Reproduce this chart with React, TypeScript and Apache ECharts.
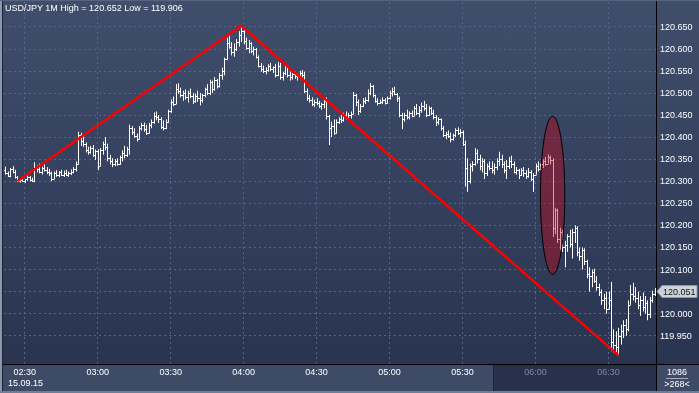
import React, { useEffect, useRef } from "react";
import * as echarts from "echarts";

// ---------- data ----------
const SYMBOL = "USD/JPY";
const PERIOD = "1M";
const DATE_LABEL = "15.09.15";
const COUNTER = "1086";
const START_TIME = "02:22";
const FIRST_OPEN = 120.325;

const highs = [
  120.333,120.322,120.330,120.334,120.326,120.312,120.306,120.310,120.305,120.313,
  120.312,120.308,120.343,120.336,120.340,120.333,120.338,120.332,120.328,120.322,
  120.322,120.325,120.323,120.326,120.324,120.326,120.322,120.327,120.332,120.345,
  120.412,120.410,120.405,120.388,120.378,120.380,120.382,120.372,120.372,120.375,
  120.390,120.400,120.385,120.360,120.352,120.350,120.352,120.358,120.370,120.380,
  120.378,120.428,120.425,120.420,120.408,120.425,120.432,120.433,120.428,120.432,
  120.440,120.456,120.458,120.450,120.445,120.438,120.440,120.462,120.485,120.492,
  120.520,120.522,120.512,120.505,120.508,120.505,120.510,120.500,120.498,120.505,
  120.500,120.498,120.512,120.520,120.530,120.528,120.536,120.532,120.545,120.557,
  120.580,120.625,120.630,120.615,120.612,120.622,120.640,120.652,120.645,120.625,
  120.620,120.615,120.605,120.602,120.585,120.568,120.562,120.558,120.565,120.568,
  120.560,120.566,120.570,120.568,120.548,120.568,120.562,120.548,120.545,120.548,
  120.545,120.550,120.552,120.548,120.510,120.495,120.490,120.485,120.488,120.482,
  120.478,120.485,120.490,120.450,120.435,120.440,120.440,120.445,120.450,120.455,
  120.458,120.455,120.458,120.502,120.498,120.485,120.475,120.488,120.490,120.508,
  120.522,120.518,120.496,120.488,120.485,120.490,120.488,120.492,120.505,120.512,
  120.514,120.500,120.492,120.455,120.455,120.462,120.458,120.460,120.470,120.475,
  120.470,120.478,120.482,120.475,120.470,120.468,120.462,120.450,120.445,120.442,
  120.425,120.412,120.415,120.410,120.408,120.420,120.422,120.418,120.415,120.392,
  120.352,120.340,120.345,120.375,120.372,120.360,120.352,120.350,120.340,120.345,
  120.345,120.340,120.352,120.367,120.360,120.345,120.348,120.355,120.358,120.345,
  120.332,120.328,120.330,120.332,120.325,120.330,120.325,120.318,120.340,120.345,
  120.340,120.350,120.355,120.361,120.358,120.352,120.240,120.238,120.195,120.190,
  120.165,120.180,120.190,120.192,120.200,120.198,120.150,120.150,120.148,120.122,
  120.105,120.100,120.102,120.085,120.068,120.055,120.045,120.050,120.050,120.072,
  119.965,119.960,119.968,119.975,119.985,119.988,120.030,120.065,120.070,120.060,
  120.050,120.040,120.048,120.040,120.030,120.038,120.052,120.058,
];

const lows = [
  120.315,120.310,120.309,120.318,120.306,120.298,120.297,120.299,120.296,120.301,
  120.300,120.298,120.298,120.320,120.318,120.315,120.322,120.316,120.312,120.300,
  120.305,120.310,120.309,120.312,120.310,120.312,120.310,120.314,120.318,120.322,
  120.338,120.380,120.378,120.365,120.360,120.362,120.355,120.348,120.325,120.335,
  120.360,120.370,120.345,120.338,120.332,120.334,120.335,120.337,120.345,120.352,
  120.355,120.360,120.405,120.398,120.390,120.395,120.415,120.412,120.405,120.408,
  120.420,120.430,120.438,120.432,120.418,120.415,120.418,120.432,120.455,120.470,
  120.475,120.498,120.490,120.482,120.485,120.478,120.488,120.475,120.478,120.480,
  120.472,120.478,120.490,120.495,120.495,120.500,120.505,120.510,120.512,120.530,
  120.540,120.575,120.600,120.585,120.582,120.595,120.605,120.615,120.610,120.598,
  120.590,120.590,120.585,120.578,120.558,120.548,120.545,120.542,120.548,120.550,
  120.545,120.535,120.538,120.530,120.528,120.540,120.535,120.528,120.530,120.532,
  120.528,120.532,120.535,120.500,120.482,120.478,120.470,120.468,120.472,120.466,
  120.462,120.465,120.440,120.382,120.400,120.405,120.408,120.430,120.432,120.435,
  120.440,120.438,120.442,120.452,120.470,120.450,120.455,120.468,120.475,120.480,
  120.495,120.490,120.478,120.472,120.475,120.475,120.474,120.476,120.485,120.492,
  120.495,120.480,120.445,120.418,120.435,120.440,120.440,120.445,120.448,120.450,
  120.445,120.455,120.460,120.445,120.448,120.450,120.440,120.425,120.428,120.415,
  120.400,120.395,120.398,120.388,120.392,120.400,120.405,120.400,120.380,120.288,
  120.276,120.295,120.322,120.335,120.340,120.325,120.320,120.305,120.312,120.325,
  120.318,120.315,120.325,120.335,120.330,120.318,120.305,120.328,120.330,120.318,
  120.315,120.305,120.312,120.310,120.305,120.308,120.300,120.276,120.315,120.322,
  120.325,120.330,120.335,120.340,120.338,120.174,120.180,120.160,120.145,120.140,
  120.105,120.140,120.150,120.125,120.160,120.130,120.120,120.100,120.110,120.080,
  120.050,120.060,120.070,120.052,120.040,120.020,120.010,120.000,120.010,119.915,
  119.912,119.910,119.906,119.930,119.945,119.950,119.960,120.020,120.030,120.025,
  120.010,119.995,120.005,120.000,119.985,119.990,120.025,120.040,
];

const closes = [
  120.318,120.312,120.327,120.320,120.310,120.301,120.303,120.300,120.304,120.309,
  120.302,120.300,120.330,120.328,120.322,120.330,120.325,120.320,120.318,120.306,
  120.318,120.313,120.320,120.315,120.318,120.314,120.318,120.320,120.328,120.340,
  120.405,120.392,120.385,120.370,120.366,120.375,120.360,120.368,120.335,120.370,
  120.385,120.378,120.352,120.345,120.340,120.346,120.340,120.354,120.365,120.360,
  120.372,120.420,120.412,120.402,120.395,120.420,120.428,120.418,120.410,120.428,
  120.435,120.448,120.445,120.440,120.422,120.420,120.435,120.458,120.480,120.476,
  120.510,120.505,120.495,120.500,120.490,120.500,120.492,120.482,120.494,120.488,
  120.485,120.495,120.508,120.500,120.525,120.508,120.530,120.515,120.540,120.550,
  120.578,120.612,120.605,120.592,120.600,120.615,120.632,120.640,120.618,120.602,
  120.612,120.595,120.600,120.582,120.562,120.555,120.550,120.552,120.560,120.555,
  120.558,120.540,120.562,120.535,120.545,120.560,120.540,120.535,120.542,120.538,
  120.540,120.545,120.540,120.505,120.488,120.485,120.475,120.480,120.478,120.470,
  120.475,120.482,120.448,120.420,120.425,120.410,120.435,120.440,120.438,120.450,
  120.445,120.450,120.452,120.495,120.480,120.458,120.470,120.482,120.485,120.500,
  120.515,120.495,120.482,120.478,120.480,120.485,120.478,120.488,120.500,120.505,
  120.498,120.488,120.450,120.440,120.450,120.445,120.455,120.448,120.465,120.455,
  120.462,120.470,120.465,120.450,120.465,120.455,120.445,120.435,120.440,120.420,
  120.405,120.408,120.402,120.395,120.405,120.415,120.410,120.412,120.385,120.330,
  120.300,120.335,120.340,120.365,120.350,120.335,120.345,120.318,120.335,120.330,
  120.325,120.332,120.345,120.350,120.340,120.325,120.335,120.345,120.340,120.322,
  120.325,120.315,120.325,120.318,120.312,120.322,120.305,120.315,120.335,120.328,
  120.338,120.345,120.340,120.355,120.348,120.195,120.235,120.170,120.185,120.150,
  120.155,120.175,120.158,120.185,120.195,120.140,120.130,120.145,120.120,120.090,
  120.085,120.095,120.075,120.060,120.050,120.030,120.035,120.010,120.030,119.935,
  119.930,119.925,119.950,119.960,119.975,119.965,120.020,120.045,120.040,120.035,
  120.020,120.030,120.015,120.025,120.000,120.030,120.045,120.051,
];

const xTickLabels = ["02:30", "03:00", "03:30", "04:00", "04:30", "05:00", "05:30", "06:00", "06:30"];
const yTickValues = [119.95, 120.0, 120.05, 120.1, 120.15, 120.2, 120.25, 120.3, 120.35, 120.4, 120.45, 120.5, 120.55, 120.6, 120.65];

const trendTimes = ["02:27", "03:59", "06:34"];
const trendValues = [120.3, 120.652, 119.906];

const ellipseCenterTime = "06:07";
const ellipseCenterValue = 120.268;
const ellipseHalfBars = 5;
const ellipseHalfPrice = 0.179;

const SHADE_FROM_TIME = "05:42";

// ---------- layout ----------
const W = 699;
const H = 393;
const GRID = { left: 4, right: 43, top: 2, bottom: 29 };
const Y_MIN = 119.886;
const Y_MAX = 120.706;
const FONT = "Liberation Sans";

function buildTimes(n: number): string[] {
  const [h, m] = START_TIME.split(":").map(Number);
  const base = h * 60 + m;
  const out: string[] = [];
  for (let k = 0; k < n; k++) {
    const t = base + k;
    out.push(String(Math.floor(t / 60)).padStart(2, "0") + ":" + String(t % 60).padStart(2, "0"));
  }
  return out;
}

export default function App() {
  const ref = useRef<HTMLDivElement>(null);

  useEffect(() => {
    document.body.style.margin = "0";
    const chart = echarts.init(ref.current!, null, { renderer: "svg" });
    const n = closes.length;
    const times = buildTimes(n);
    const ohlc = closes.map((c, i) => {
      const o = i === 0 ? FIRST_OPEN : closes[i - 1];
      const l = Math.min(lows[i], o, c);
      const h = Math.max(highs[i], o, c);
      return [i, o, c, l, h];
    });
    const xTickIdx = xTickLabels.map((t) => times.indexOf(t));
    const shadeFrom = times.indexOf(SHADE_FROM_TIME) + 0.5;
    const trendData = trendTimes.map((t, k) => [times.indexOf(t), trendValues[k]]);
    const hi = Math.max(...highs);
    const lo = Math.min(...lows);
    const last = closes[n - 1];
    // the last-price tag covers the tick label it sits on
    const yLabelValues = yTickValues.filter((v) => Math.abs(v - last) > 0.02);

    const gridLine = { show: true, lineStyle: { color: "#56668a", type: [2, 3] as any, width: 1 } };

    chart.setOption({
      animation: false,
      textStyle: { fontFamily: FONT },
      grid: { ...GRID },
      xAxis: {
        type: "value",
        min: -0.5,
        max: n - 0.5,
        z: 10,
        axisLine: { show: false },
        axisTick: { show: false, customValues: xTickIdx },
        axisLabel: {
          customValues: xTickIdx,
          formatter: (v: number) => times[Math.round(v)],
          color: (v: any) => (Number(v) > shadeFrom ? "#7c88a1" : "#ffffff"),
          fontSize: 9,
          fontFamily: FONT,
          margin: 3,
        },
        splitLine: gridLine,
      },
      yAxis: {
        type: "value",
        position: "right",
        min: Y_MIN,
        max: Y_MAX,
        axisLine: { show: false },
        axisTick: { show: false, customValues: yTickValues },
        axisLabel: {
          customValues: yLabelValues,
          formatter: (v: number) => Number(v).toFixed(3),
          color: "#ffffff",
          fontSize: 9,
          fontFamily: FONT,
          margin: 4,
        },
        splitLine: gridLine,
      },
      series: [
        {
          type: "custom",
          z: 12,
          data: ohlc,
          encode: { x: 0, y: [1, 2, 3, 4] },
          renderItem: (_p: any, api: any) => {
            const i = api.value(0);
            const pO = api.coord([i, api.value(1)]);
            const pC = api.coord([i, api.value(2)]);
            const pL = api.coord([i, api.value(3)]);
            const pH = api.coord([i, api.value(4)]);
            const x = Math.round(pH[0]) + 0.5;
            const yH = pH[1];
            const yL = Math.max(pL[1], yH + 1);
            const yO = Math.round(pO[1]) + 0.5;
            const yC = Math.round(pC[1]) + 0.5;
            const st = { stroke: "#ffffff", lineWidth: 1 };
            return {
              type: "group",
              children: [
                { type: "line", shape: { x1: x, y1: yH, x2: x, y2: yL }, style: st },
                { type: "line", shape: { x1: x - 1.5, y1: yO, x2: x, y2: yO }, style: st },
                { type: "line", shape: { x1: x, y1: yC, x2: x + 1.5, y2: yC }, style: st },
              ],
            };
          },
        },
        {
          type: "line",
          z: 13,
          data: trendData,
          symbol: "none",
          lineStyle: { color: "#ff0000", width: 2.5 },
          silent: true,
        },
      ],
    });

    const px = (i: number, v: number) => chart.convertToPixel({ gridIndex: 0 }, [i, v]) as number[];
    const plotRight = W - GRID.right;
    const plotBottom = H - GRID.bottom;

    const cIdx = times.indexOf(ellipseCenterTime);
    const ec = px(cIdx, ellipseCenterValue);
    const rx = px(cIdx + ellipseHalfBars, ellipseCenterValue)[0] - ec[0];
    const ry = ec[1] - px(cIdx, ellipseCenterValue + ellipseHalfPrice)[1];

    const ly = Math.round(px(n - 1, last)[1]) + 0.5;
    const shadeX = Math.round(px(shadeFrom, Y_MIN)[0]);

    const txt = (text: string, x: number, y: number, fill: string, align = "left") => ({
      type: "text",
      z: 60,
      style: {
        text,
        x,
        y,
        fill,
        fontSize: 9,
        fontFamily: FONT,
        align,
        textAlign: align,
        verticalAlign: "middle",
        textVerticalAlign: "middle",
      },
    });

    chart.setOption({
      graphic: [
        {
          type: "rect",
          z: -100,
          silent: true,
          shape: { x: 0, y: 0, width: W, height: plotBottom },
          style: {
            fill: new echarts.graphic.LinearGradient(0, 0, 0, 1, [
              { offset: 0, color: "#404e6c" },
              { offset: 1, color: "#293450" },
            ]),
          },
        },
        { type: "rect", z: -99, silent: true, shape: { x: 0, y: plotBottom, width: W, height: H - plotBottom }, style: { fill: "#3e4b67" } },
        { type: "rect", z: -98, silent: true, shape: { x: shadeX, y: plotBottom + 1, width: plotRight - shadeX, height: H - plotBottom - 3 }, style: { fill: "#27314a" } },
        { type: "line", z: -97, silent: true, shape: { x1: shadeX + 0.5, y1: plotBottom + 1, x2: shadeX + 0.5, y2: H - 2 }, style: { stroke: "#1c2436", lineWidth: 1 } },
        { type: "line", z: 50, silent: true, shape: { x1: 0, y1: plotBottom + 0.5, x2: W, y2: plotBottom + 0.5 }, style: { stroke: "#000000", lineWidth: 1 } },
        { type: "line", z: 50, silent: true, shape: { x1: plotRight + 0.5, y1: 0, x2: plotRight + 0.5, y2: H }, style: { stroke: "#000000", lineWidth: 1 } },
        { type: "rect", z: 50, silent: true, shape: { x: 0, y: 0, width: 2, height: H }, style: { fill: "#8a97ae" } },
        { type: "line", z: 50, silent: true, shape: { x1: 2.5, y1: 0, x2: 2.5, y2: H }, style: { stroke: "#1c2334", lineWidth: 1 } },
        { type: "rect", z: 50, silent: true, shape: { x: 0, y: H - 2, width: W, height: 2 }, style: { fill: "#6f7d96" } },
        { type: "line", z: 50, silent: true, shape: { x1: 0, y1: 0.5, x2: W, y2: 0.5 }, style: { stroke: "#56647f", lineWidth: 1 } },
        txt(`${SYMBOL} ${PERIOD} High = ${hi.toFixed(3)} Low = ${lo.toFixed(3)}`, 5, 8, "#ffffff"),
        txt(DATE_LABEL, 8, 383, "#ffffff"),
        txt(COUNTER, 677, 372, "#ffffff", "center"),
        { type: "line", z: 60, silent: true, shape: { x1: 666, y1: 378.5, x2: 688, y2: 378.5 }, style: { stroke: "#a4aec0", lineWidth: 1 } },
        txt(`>${n}<`, 677, 384, "#ffffff", "center"),
        {
          type: "polygon",
          z: 60,
          silent: true,
          shape: { points: [[657, ly], [662, ly - 6], [697, ly - 6], [697, ly + 6], [662, ly + 6]] },
          style: { fill: "#cdd1d8", stroke: "#8e96a5", lineWidth: 1 },
        },
        txt(last.toFixed(3), 663, ly, "#111111"),
        {
          type: "ellipse",
          z: 100,
          silent: true,
          shape: { cx: ec[0], cy: ec[1], rx, ry },
          style: { fill: "rgba(200,0,20,0.4)", stroke: "#000000", lineWidth: 1 },
        },
      ],
    });

    return () => chart.dispose();
  }, []);

  return <div ref={ref} style={{ position: "fixed", left: 0, top: 0, width: W, height: H }} />;
}
